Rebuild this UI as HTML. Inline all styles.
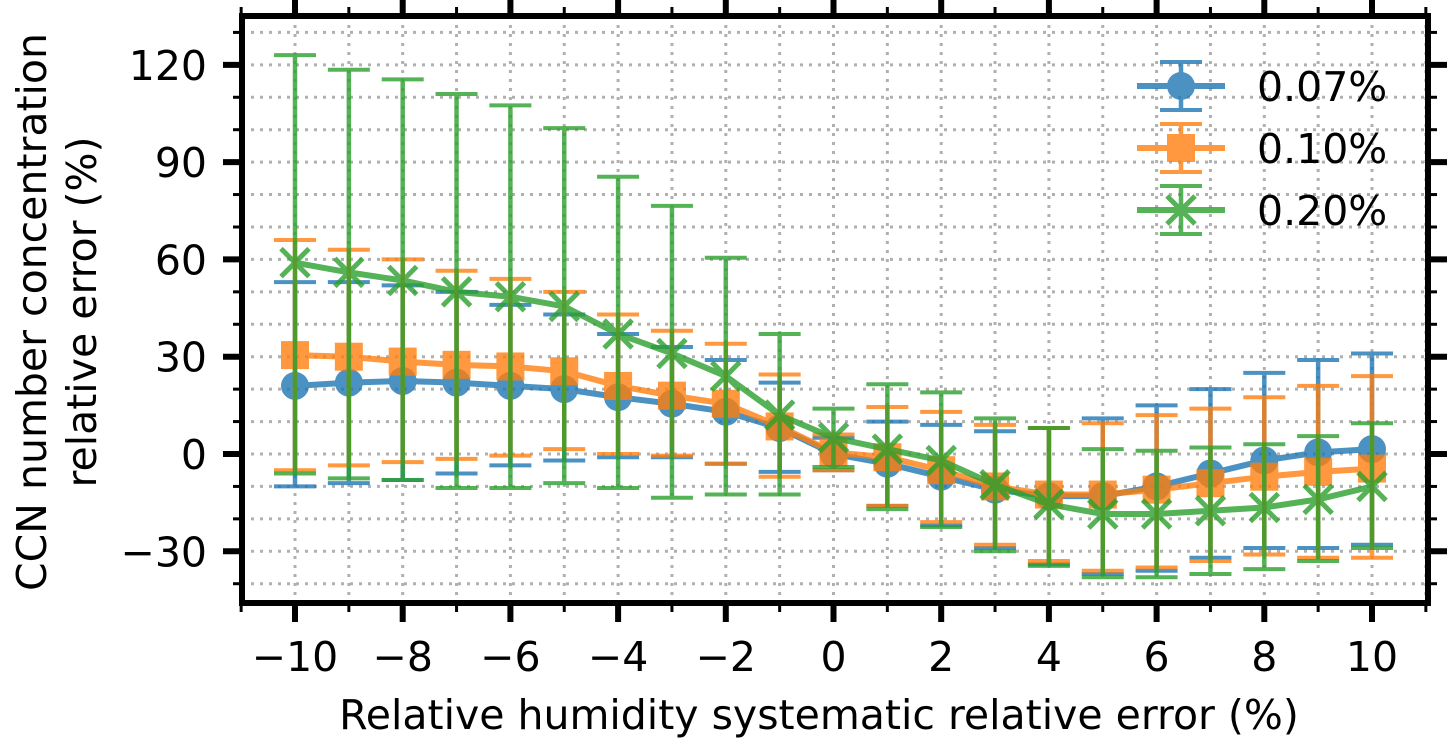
<!DOCTYPE html>
<html><head><meta charset="utf-8"><style>
body{margin:0;background:#fff}
svg{display:block;font-family:"DejaVu Sans","Liberation Sans",sans-serif}
</style></head><body>
<svg id="c" width="1455" height="750"></svg>
<script>
const xs=[-10,-9,-8,-7,-6,-5,-4,-3,-2,-1,0,1,2,3,4,5,6,7,8,9,10];
const blueMean=[21,22,22.5,22,21,20,17.5,15.5,13,8,0,-3,-7,-11,-13,-13,-10,-6,-2,0.5,1.5];
const blueUp=[53,53,52,50,46,43,37,33,29,22,5,10,9,7,8,11,15,20,25,29,31];
const blueLo=[-10,-9,-8,-6,-3.5,-2,-1,-1,-3,-5.5,-5,-16,-22,-29,-34,-37,-36,-32,-29,-29,-28];
const orgMean=[30.5,30,28.5,27.5,27,25.5,21,18,15.5,8.5,0.5,-1,-5,-10,-12.5,-12.5,-11,-9,-7,-5.5,-4.5];
const orgUp=[66,63,60,56.5,54,50,43,38,34,24.5,6,14.5,13,9,8,9.5,12,14,17.5,21,24];
const orgLo=[-5,-3.5,-2.5,-1.5,-0.5,1.5,0,-0.5,-3,-7,-5,-16,-21,-28,-33,-36,-35,-33,-31,-32,-32];
const grnMean=[59,56,53.5,50,48.5,45.5,37,31,24,12,5,1.5,-2,-9.5,-15.5,-18.5,-18.5,-17.5,-16.5,-14,-10];
const grnUp=[123,118.5,115.5,111,107.5,100.5,85.5,76.5,60.5,37,14,21.5,19,11,8,1.5,1,2,3,5.5,9.5];
const grnLo=[-6,-7.5,-8,-10.5,-10.5,-9,-10.5,-13.5,-12.5,-12.5,-4,-17,-22.5,-30,-34.5,-38,-38,-37,-35.5,-33,-29];
const xTicks=[-10,-8,-6,-4,-2,0,2,4,6,8,10];
const yTicks=[-30,0,30,60,90,120];

const L=242,R=1428,T=16,B=603;
const X=v=>295+(v+10)*53.85;
const Y=v=>454-v*3.243;
const svg=document.getElementById('c');
const NS='http://www.w3.org/2000/svg';
function mk(tag,at,parent){const e=document.createElementNS(NS,tag);for(const k in at)e.setAttribute(k,at[k]);(parent||svg).appendChild(e);return e;}

const grid=mk('g',{});


for(let v=-11;v<=11;v++){const x=X(v);if(x<L||x>R)continue;mk('line',{x1:x,x2:x,y1:T,y2:B,stroke:'#b0b0b0','stroke-width':3,'stroke-dasharray':'3,6'},grid);}
for(let v=-40;v<=130;v+=10){const y=Y(v);if(y<T||y>B)continue;mk('line',{x1:L,x2:R,y1:y,y2:y,stroke:'#b0b0b0','stroke-width':3,'stroke-dasharray':'3,6'},grid);}

const series=[
 {name:'0.07%',c:'#1f77b4',m:blueMean,u:blueUp,l:blueLo,mk:'circle'},
 {name:'0.10%',c:'#ff7f0e',m:orgMean,u:orgUp,l:orgLo,mk:'square'},
 {name:'0.20%',c:'#2ca02c',m:grnMean,u:grnUp,l:grnLo,mk:'x'}];
function marker(g,type,x,y,c){
 if(type==='circle')mk('circle',{cx:x,cy:y,r:14,fill:c},g);
 else if(type==='square')mk('rect',{x:x-14,y:y-14,width:28,height:28,fill:c},g);
 else{mk('path',{d:`M${x-14},${y-14}L${x+14},${y+14}M${x-14},${y+14}L${x+14},${y-14}`,stroke:c,'stroke-width':5,fill:'none'},g);}
}
series.forEach((s,si)=>{
 const g=mk('g',{opacity:0.8});
 
 
 xs.forEach((v,i)=>{
  const x=X(v);
  const eb=mk('g',{},g);
  
  
  mk('line',{x1:x,x2:x,y1:Y(s.u[i]),y2:Y(s.l[i]),stroke:s.c,'stroke-width':4.5},eb);
  mk('line',{x1:x-21,x2:x+21,y1:Y(s.u[i]),y2:Y(s.u[i]),stroke:s.c,'stroke-width':4},eb);
  mk('line',{x1:x-21,x2:x+21,y1:Y(s.l[i]),y2:Y(s.l[i]),stroke:s.c,'stroke-width':4},eb);
 });
 const ln=mk('polyline',{points:xs.map((v,i)=>X(v)+','+Y(s.m[i])).join(' '),fill:'none',stroke:s.c,'stroke-width':6},g);
 
 
 xs.forEach((v,i)=>marker(g,s.mk,X(v),Y(s.m[i]),s.c));
 const lg=mk('g',{},svg);
 
 
 const ly=86+si*62;
 const lgm=mk('g',{opacity:0.8},lg);
 mk('line',{x1:1137,x2:1225,y1:ly,y2:ly,stroke:s.c,'stroke-width':6},lgm);
 mk('line',{x1:1181,x2:1181,y1:ly-24,y2:ly+24,stroke:s.c,'stroke-width':4.5},lgm);
 mk('line',{x1:1160,x2:1202,y1:ly-24,y2:ly-24,stroke:s.c,'stroke-width':4},lgm);
 mk('line',{x1:1160,x2:1202,y1:ly+24,y2:ly+24,stroke:s.c,'stroke-width':4},lgm);
 marker(lgm,s.mk,1181,ly,s.c);
 const t=mk('text',{x:1257,y:ly+15,'font-size':41,fill:'#000'},lg);t.textContent=s.name;
});

const ax=mk('g',{});


for(let v=-11;v<=11;v++){const x=X(v);if(x<L-2||x>R+2)continue;const maj=xTicks.includes(v);const len=maj?19:9;
 mk('line',{x1:x,x2:x,y1:B,y2:B+len,stroke:'#000','stroke-width':maj?6:3},ax);
 mk('line',{x1:x,x2:x,y1:T,y2:T-len,stroke:'#000','stroke-width':maj?6:3},ax);}
for(let v=-40;v<=130;v+=10){const y=Y(v);if(y<T||y>B)continue;const maj=yTicks.includes(v);const len=maj?19:9;
 mk('line',{x1:L,x2:L-len,y1:y,y2:y,stroke:'#000','stroke-width':maj?6:3},ax);
 mk('line',{x1:R,x2:R+len,y1:y,y2:y,stroke:'#000','stroke-width':maj?6:3},ax);}
mk('rect',{x:L,y:T,width:R-L,height:B-T,fill:'none',stroke:'#000','stroke-width':6},ax);
xTicks.forEach(v=>{const t=mk('text',{x:X(v),y:671,'font-size':41,'text-anchor':'middle'},ax);t.textContent=(v<0?'\u2212'+(-v):v);
 });
yTicks.forEach(v=>{const t=mk('text',{x:207,y:Y(v)+15,'font-size':41,'text-anchor':'end'},ax);t.textContent=(v<0?'\u2212'+(-v):v);
 });
const xt=mk('text',{x:(L+R)/2-16,y:729,'font-size':41,'text-anchor':'middle'});
xt.textContent='Relative humidity systematic relative error (%)';

const yt=mk('text',{transform:'translate(46,312) rotate(-90)','font-size':41,'text-anchor':'middle'});

const t1=mk('tspan',{x:0,dy:0},yt);t1.textContent='CCN number concentration';
const t2=mk('tspan',{x:0,dy:50},yt);t2.textContent='relative error (%)';
</script>
</body></html>
